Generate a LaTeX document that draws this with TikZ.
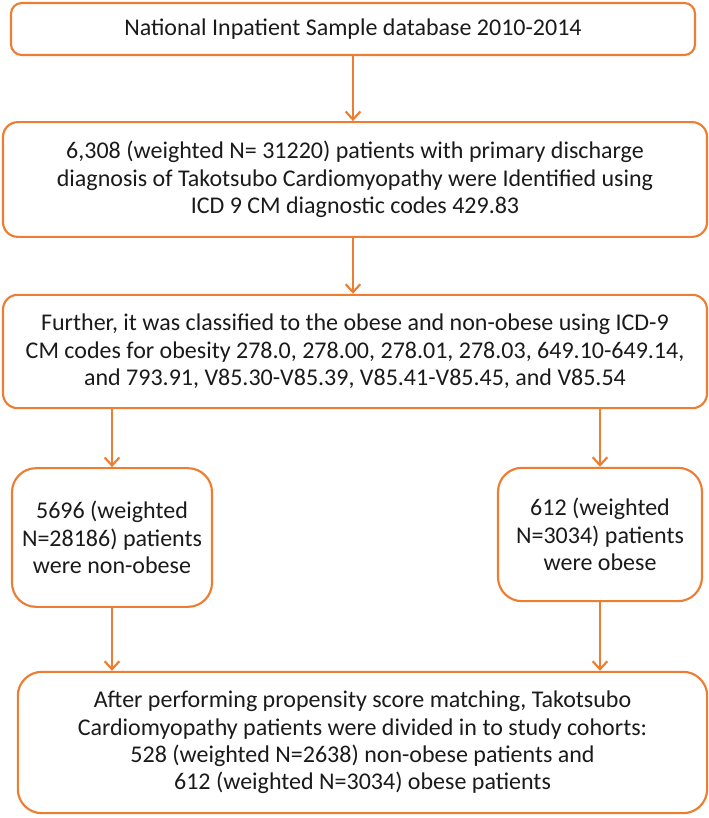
\documentclass[tikz,border=0pt]{standalone}
\usepackage{fontspec}
\setmainfont{Carlito}
\usetikzlibrary{arrows.meta}

\definecolor{flowline}{HTML}{ED7D31}
\definecolor{flowtext}{HTML}{1A1A1A}

\tikzset{
  stagebox/.style={draw=flowline, line width=1.6pt, rounded corners=11pt,
    align=center, text=flowtext, inner sep=0pt,
    font=\fontsize{18}{20.5}\selectfont},
  flow/.style={draw=flowline, line width=1.6pt,
    -{Straight Barb[length=6pt, width=11pt]}}
}

\begin{document}
\begin{tikzpicture}[x=0.75pt, y=-0.75pt]

\useasboundingbox (0,0) rectangle (709,818);

% stages
\node [stagebox, minimum width=513pt, minimum height=39pt, rounded corners=8pt]
  (nis) at (353,29) {National Inpatient Sample database 2010-2014};
\node [stagebox, minimum width=528pt, minimum height=86pt]
  (ttc) at (355,179.5) {6,308 (weighted N= 31220) patients with primary discharge\\
  diagnosis of Takotsubo Cardiomyopathy were Identified using\\
  ICD 9 CM diagnostic codes 429.83};
\node [stagebox, minimum width=528pt, minimum height=85pt]
  (split) at (355,351.5) {Further, it was classified to the obese and non-obese using ICD-9\\
  CM codes for obesity 278.0, 278.00, 278.01, 278.03, 649.10-649.14,\\
  and 793.91, V85.30-V85.39, V85.41-V85.45, and V85.54};
\node [stagebox, minimum width=150pt, minimum height=104pt, rounded corners=18pt]
  (nonobese) at (112,537.5) {5696 (weighted\\ N=28186) patients\\ were non-obese};
\node [stagebox, minimum width=153pt, minimum height=100pt, rounded corners=18pt]
  (obese) at (600,534.5) {612 (weighted\\ N=3034) patients\\ were obese};
\node [stagebox, minimum width=517pt, minimum height=106pt, rounded corners=18pt]
  (psm) at (362.5,742.5) {After performing propensity score matching, Takotsubo\\
  Cardiomyopathy patients were divided in to study cohorts:\\
  528 (weighted N=2638) non-obese patients and\\
  612 (weighted N=3034) obese patients};

% connectors
\draw [flow] (nis.south) -- (nis.south |- ttc.north);
\draw [flow] (ttc.south -| nis.south) -- (split.north -| nis.south);
\draw [flow] (split.south -| nonobese.north) -- (nonobese.north);
\draw [flow] (split.south -| obese.north) -- (obese.north);
\draw [flow] (nonobese.south) -- (nonobese.south |- psm.north);
\draw [flow] (obese.south) -- (obese.south |- psm.north);

\end{tikzpicture}
\end{document}
